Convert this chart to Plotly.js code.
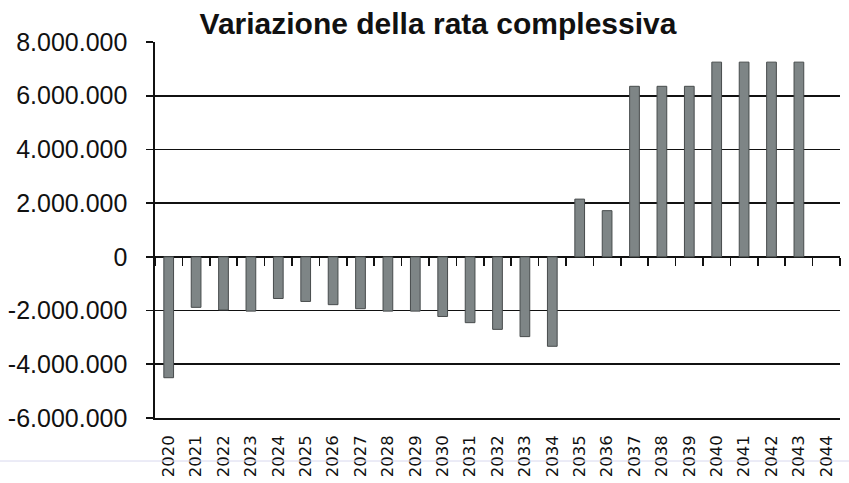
<!DOCTYPE html>
<html>
<head>
<meta charset="utf-8">
<script src="https://cdn.plot.ly/plotly-3.0.1.min.js"></script>
<style>html,body{margin:0;padding:0;background:#fff}#chart{width:849px;height:483px}</style>
</head>
<body>
<div id="chart"></div>
<script>
const years = ['2020','2021','2022','2023','2024','2025','2026','2027','2028','2029','2030','2031','2032','2033','2034','2035','2036','2037','2038','2039','2040','2041','2042','2043','2044'];
const variazione = [-4500000,-1880000,-1980000,-2020000,-1550000,-1660000,-1780000,-1930000,-2020000,-2020000,-2220000,-2450000,-2700000,-2970000,-3330000,2150000,1720000,6350000,6350000,6350000,7250000,7250000,7250000,7250000,null];
const yTickVals = [-6000000,-4000000,-2000000,0,2000000,4000000,6000000,8000000];
const yTickText = ['-6.000.000','-4.000.000','-2.000.000','0','2.000.000','4.000.000','6.000.000','8.000.000'];
const titleText = 'Variazione della rata complessiva';

const font = 'Liberation Sans, Arial, sans-serif';

const data = [
  {type:'bar', x: years, y: variazione, xaxis:'x', yaxis:'y',
   marker:{color:'#7e8586', line:{color:'#474b4c', width:1}},
   hoverinfo:'x+y', showlegend:false},
  {type:'scatter', mode:'markers', x: years, y: years.map(()=>null), xaxis:'x2', yaxis:'y',
   hoverinfo:'skip', showlegend:false}
];

const layout = {
  width:849, height:483,
  margin:{l:155, r:9, t:42, b:65},
  paper_bgcolor:'#fff', plot_bgcolor:'#fff',
  bargap:0.645,
  title:{text:'<b>'+titleText+'</b>', x:438/849, xanchor:'center', y:1-23/483, yanchor:'middle',
         font:{family:font, size:30, color:'#111'}},
  xaxis:{type:'category', categoryorder:'array', categoryarray: years, range:[-0.5,24.5],
         tickangle:-90, ticks:'', showgrid:false, zeroline:false, showline:true, linecolor:'#111', linewidth:1.6,
         tickfont:{family:'DejaVu Sans, sans-serif', size:16.5, color:'#111'}, ticklabelstandoff:9, fixedrange:true},
  xaxis2:{type:'category', categoryorder:'array', categoryarray: years, range:[-0.5,24.5],
          overlaying:'x', anchor:'free', position:6/14, side:'bottom',
          ticks:'outside', tickson:'boundaries', ticklen:8, tickwidth:1.6, tickcolor:'#111',
          showticklabels:false, showgrid:false, zeroline:false, showline:false},
  yaxis:{range:[-6000000,8000000], tickvals:yTickVals, ticktext:yTickText,
         ticks:'outside', ticklen:7, tickwidth:1.6, tickcolor:'#111',
         showgrid:true, gridcolor:'#111', gridwidth:1.6,
         zeroline:true, zerolinecolor:'#111', zerolinewidth:1.6,
         showline:true, linecolor:'#111', linewidth:1.6,
         tickfont:{family:font, size:25, color:'#111'}, ticklabelstandoff:14, fixedrange:true},
  shapes:[{type:'line', xref:'paper', yref:'paper', x0:-155/685, x1:1+9/685, y0:-43/376, y1:-43/376,
           line:{color:'#d8d8ee', width:1}}]
};

Plotly.newPlot('chart', data, layout, {displayModeBar:false, staticPlot:true});
</script>
</body>
</html>
